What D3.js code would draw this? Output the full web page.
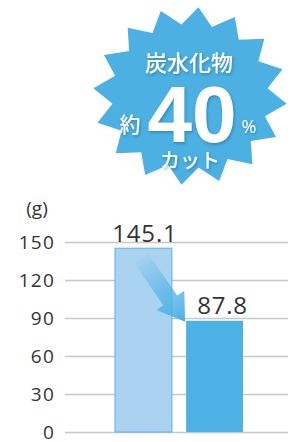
<!DOCTYPE html>
<html>
<head>
<meta charset="utf-8">
<script src="https://cdn.jsdelivr.net/npm/d3@7"></script>
<style>
  body { margin: 0; background: #fff; }
  svg { display: block; }
</style>
</head>
<body>
<div id="container"></div>
<script>
/* DATA */
const categories = ["before", "after"];
const values = [145.1, 87.8];
const valueLabels = ["145.1", "87.8"];
const yTicks = [0, 30, 60, 90, 120, 150];
const unitLabel = "(g)";
const badgeTop = "炭水化物";
const badgePrefix = "約";
const badgeNumber = "40";
const badgeSuffix = "%";
const badgeBottom = "カット";

/* CONSTANTS */
const width = 300,
  height = 442;
const gridLeft = 65, gridRight = 288;
const barFill = ["#a9d3f1", "#4eb1e5"];
const barStroke = ["#5ab3e5", "none"];
const textColor = "#333";

const svg = d3.select("#container")
  .append("svg")
  .attr("width", width)
  .attr("height", height);

const defs = svg.append("defs");

// shadow for badge text
const shadow = defs.append("filter")
  .attr("id", "txtShadow")
  .attr("x", "-20%").attr("y", "-20%")
  .attr("width", "140%").attr("height", "140%");
shadow.append("feDropShadow")
  .attr("dx", 1).attr("dy", 1.5)
  .attr("stdDeviation", 1.5)
  .attr("flood-color", "#1a4f70")
  .attr("flood-opacity", 0.45);

// + SCALES
const yScale = d3.scaleLinear()
  .domain([0, 150])
  .range([432, 242]);

const xScale = d3.scaleBand()
  .domain(categories)
  .range([115, 243])
  .paddingInner(0.2)
  .paddingOuter(0);

// + GRID + AXIS
const yAxis = d3.axisLeft(yScale)
  .tickValues(yTicks)
  .tickSize(-(gridRight - gridLeft))
  .tickPadding(10);

const axisG = svg.append("g")
  .attr("transform", `translate(${gridLeft},0)`)
  .call(yAxis);

axisG.select(".domain").remove();
axisG.selectAll(".tick line")
  .attr("stroke", "#c8c8c8")
  .attr("stroke-width", 1.3);
axisG.selectAll(".tick text")
  .attr("fill", textColor)
  .attr("font-family", "'Open Sans', sans-serif")
  .attr("font-size", 19)
  .attr("letter-spacing", 1.2)
  .attr("dy", "0.34em");

svg.append("text")
  .attr("x", 37)
  .attr("y", 215)
  .attr("text-anchor", "middle")
  .attr("fill", textColor)
  .attr("font-family", "'Open Sans', sans-serif")
  .attr("font-size", 19)
  .text(unitLabel);

// + BARS
svg.selectAll("rect.bar")
  .data(values)
  .join("rect")
  .attr("class", "bar")
  .attr("x", (d, i) => xScale(categories[i]))
  .attr("y", d => yScale(d))
  .attr("width", xScale.bandwidth())
  .attr("height", d => yScale(0) - yScale(d))
  .attr("fill", (d, i) => barFill[i])
  .attr("stroke", (d, i) => barStroke[i])
  .attr("stroke-width", 1);

// + ARROW between the two bar tops
const x0 = xScale(categories[0]) + 26, y0 = yScale(values[0]) + 10;
const tipX = xScale(categories[1]) - 1, tipY = yScale(values[1]) + 1;
const ang = Math.atan2(tipY - y0, tipX - x0);
const ux = Math.cos(ang), uy = Math.sin(ang);
const px = -uy, py = ux;
const shaftW = 8.5, headW = 17, headL = 26;
const bx = tipX - ux * headL, by = tipY - uy * headL;
const arrowPts = [
  [x0 + px * shaftW, y0 + py * shaftW],
  [bx + px * shaftW, by + py * shaftW],
  [bx + px * headW, by + py * headW],
  [tipX, tipY],
  [bx - px * headW, by - py * headW],
  [bx - px * shaftW, by - py * shaftW],
  [x0 - px * shaftW, y0 - py * shaftW]
];

const grad = defs.append("linearGradient")
  .attr("id", "arrowGrad")
  .attr("gradientUnits", "userSpaceOnUse")
  .attr("x1", x0).attr("y1", y0)
  .attr("x2", tipX).attr("y2", tipY);
grad.append("stop").attr("offset", "0%").attr("stop-color", "#4eb1e5").attr("stop-opacity", 0.05);
grad.append("stop").attr("offset", "55%").attr("stop-color", "#4eb1e5").attr("stop-opacity", 0.7);
grad.append("stop").attr("offset", "100%").attr("stop-color", "#4eb1e5").attr("stop-opacity", 1);

svg.append("polygon")
  .attr("points", arrowPts.map(p => p.join(",")).join(" "))
  .attr("fill", "url(#arrowGrad)");

// + VALUE LABELS
const labelShift = [1.5, 8];
svg.selectAll("text.val")
  .data(values)
  .join("text")
  .attr("class", "val")
  .attr("x", (d, i) => xScale(categories[i]) + xScale.bandwidth() / 2 + labelShift[i])
  .attr("y", d => yScale(d) - 6.5)
  .attr("text-anchor", "middle")
  .attr("fill", textColor)
  .attr("font-family", "'Open Sans', sans-serif")
  .attr("font-size", 24)
  .attr("letter-spacing", 0.8)
  .text((d, i) => valueLabels[i]);

// + BADGE (starburst)
const cx = 190, cy = 96;
const nPts = 16;
const outer = { rx: 97, ry: 89 }, inner = { rx: 78, ry: 72 };
const offset = 5 * Math.PI / 180;
const starPts = d3.range(nPts * 2).map(k => {
  const a = offset + k * Math.PI / nPts;
  const r = k % 2 === 0 ? outer : inner;
  return [cx + r.rx * Math.sin(a), cy - r.ry * Math.cos(a)];
});

svg.append("polygon")
  .attr("points", starPts.map(p => p.join(",")).join(" "))
  .attr("fill", "#4cb0e3");

const badge = svg.append("g")
  .attr("fill", "#fff")
  .attr("filter", "url(#txtShadow)");

const jpFont = "'Noto Sans CJK JP', sans-serif";

badge.append("text")
  .attr("x", 189).attr("y", 71)
  .attr("text-anchor", "middle")
  .attr("font-family", jpFont)
  .attr("font-weight", 500)
  .attr("font-size", 22)
  .text(badgeTop);

badge.append("text")
  .attr("x", 130).attr("y", 132)
  .attr("text-anchor", "middle")
  .attr("font-family", jpFont)
  .attr("font-weight", 500)
  .attr("font-size", 21)
  .text(badgePrefix);

badge.append("text")
  .attr("x", 192).attr("y", 142)
  .attr("text-anchor", "middle")
  .attr("font-family", "'Liberation Sans', Arial, sans-serif")
  .attr("font-weight", "bold")
  .attr("font-size", 80)
  .text(badgeNumber);

badge.append("text")
  .attr("x", 249).attr("y", 133)
  .attr("text-anchor", "middle")
  .attr("font-family", "'Open Sans', sans-serif")
  .attr("font-size", 18)
  .text(badgeSuffix);

badge.append("text")
  .attr("x", 190).attr("y", 168)
  .attr("text-anchor", "middle")
  .attr("font-family", jpFont)
  .attr("font-weight", 500)
  .attr("font-size", 20)
  .text(badgeBottom);
</script>
</body>
</html>
